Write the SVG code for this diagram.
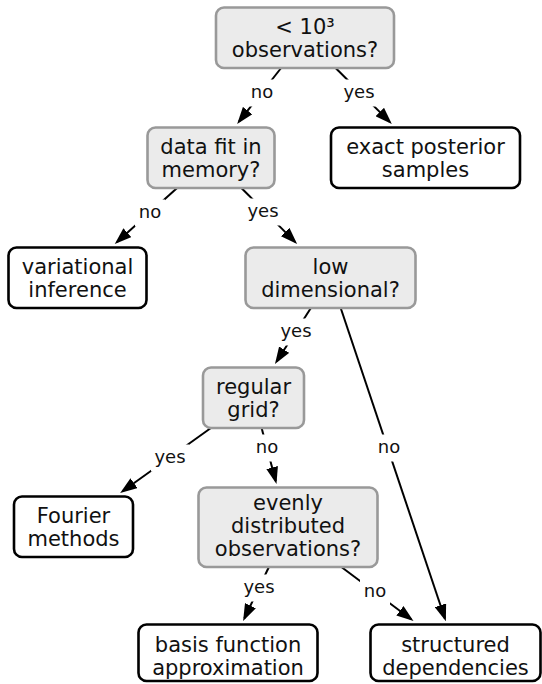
<svg xmlns="http://www.w3.org/2000/svg" width="542" height="684" viewBox="0 0 542 684">
<style>
.q rect{fill:#ebebeb;stroke:#999999;stroke-width:2.6}
.a rect{fill:#ffffff;stroke:#000000;stroke-width:2.6}
.n text{font-family:"DejaVu Sans",sans-serif;font-size:21px;fill:#111;text-anchor:middle}
.e line{stroke:#000;stroke-width:2;marker-end:url(#ah)}
.lb rect{fill:#fff;stroke:none}
.lb text{font-family:"DejaVu Sans",sans-serif;font-size:18px;fill:#111;text-anchor:middle}
</style>
<defs>
<marker id="ah" markerUnits="userSpaceOnUse" viewBox="0 0 17 12" refX="14" refY="6" markerWidth="17" markerHeight="12" orient="auto">
<path d="M0,0 L17,6 L0,12 z" fill="#000"/>
</marker>
</defs>
<rect width="542" height="684" fill="#fff"/>
<g id="edges" class="e">
<line x1="281.1" y1="68" x2="239.0" y2="121.6"/>
<line x1="335.6" y1="68" x2="389.7" y2="121.9"/>
<line x1="177.1" y1="188" x2="117.0" y2="242.0"/>
<line x1="241.4" y1="188" x2="295.0" y2="241.9"/>
<line x1="310.9" y1="308" x2="276.6" y2="361.5"/>
<line x1="340.7" y1="308" x2="444.9" y2="618.5"/>
<line x1="210.9" y1="428" x2="122.6" y2="491.3"/>
<line x1="261.6" y1="428" x2="275.7" y2="481.1"/>
<line x1="268.9" y1="567" x2="244.4" y2="618.3"/>
<line x1="341.4" y1="567" x2="411.1" y2="619.2"/>
</g>
<g id="labels" class="lb">
<rect x="247" y="79.5" width="30" height="27"/><text x="262" y="98">no</text>
<rect x="340" y="79.5" width="38" height="27"/><text x="359" y="98">yes</text>
<rect x="135" y="199.5" width="30" height="27"/><text x="150" y="218">no</text>
<rect x="244" y="198.5" width="38" height="27"/><text x="263" y="217">yes</text>
<rect x="277" y="318.5" width="38" height="27"/><text x="296" y="337">yes</text>
<rect x="374" y="434.5" width="30" height="27"/><text x="389" y="453">no</text>
<rect x="151" y="444.5" width="38" height="27"/><text x="170" y="463">yes</text>
<rect x="252" y="434.5" width="30" height="27"/><text x="267" y="453">no</text>
<rect x="240" y="574.5" width="38" height="27"/><text x="259" y="593">yes</text>
<rect x="360" y="578.5" width="30" height="27"/><text x="375" y="597">no</text>
</g>
<g id="n-obs" class="n q">
<rect x="216" y="7.5" width="178" height="60.5" rx="8"/>
<text x="305" y="34">&lt; 10³</text>
<text x="305" y="57">observations?</text>
</g>
<g id="n-mem" class="n q">
<rect x="147.5" y="127.5" width="127" height="60.5" rx="8"/>
<text x="211" y="154">data fit in</text>
<text x="211" y="177">memory?</text>
</g>
<g id="n-exact" class="n a">
<rect x="331" y="127.5" width="189" height="60.5" rx="8"/>
<text x="425.5" y="154">exact posterior</text>
<text x="425.5" y="177">samples</text>
</g>
<g id="n-var" class="n a">
<rect x="8.5" y="247.5" width="138" height="60.5" rx="8"/>
<text x="77.5" y="274">variational</text>
<text x="77.5" y="297">inference</text>
</g>
<g id="n-low" class="n q">
<rect x="245.5" y="247.5" width="170" height="60.5" rx="8"/>
<text x="330.5" y="274">low</text>
<text x="330.5" y="297">dimensional?</text>
</g>
<g id="n-grid" class="n q">
<rect x="203" y="367.5" width="101" height="60.5" rx="8"/>
<text x="253.5" y="394">regular</text>
<text x="253.5" y="417">grid?</text>
</g>
<g id="n-fourier" class="n a">
<rect x="14" y="496.5" width="119" height="60.5" rx="8"/>
<text x="73.5" y="523">Fourier</text>
<text x="73.5" y="546">methods</text>
</g>
<g id="n-even" class="n q">
<rect x="198.5" y="487.5" width="179" height="79.5" rx="8"/>
<text x="288" y="510">evenly</text>
<text x="288" y="533">distributed</text>
<text x="288" y="556">observations?</text>
</g>
<g id="n-basis" class="n a">
<rect x="138.5" y="624.5" width="179" height="56.5" rx="8"/>
<text x="228" y="652">basis function</text>
<text x="228" y="675">approximation</text>
</g>
<g id="n-struct" class="n a">
<rect x="370.5" y="624.5" width="170" height="56.5" rx="8"/>
<text x="455.5" y="652">structured</text>
<text x="455.5" y="675">dependencies</text>
</g>
</svg>
